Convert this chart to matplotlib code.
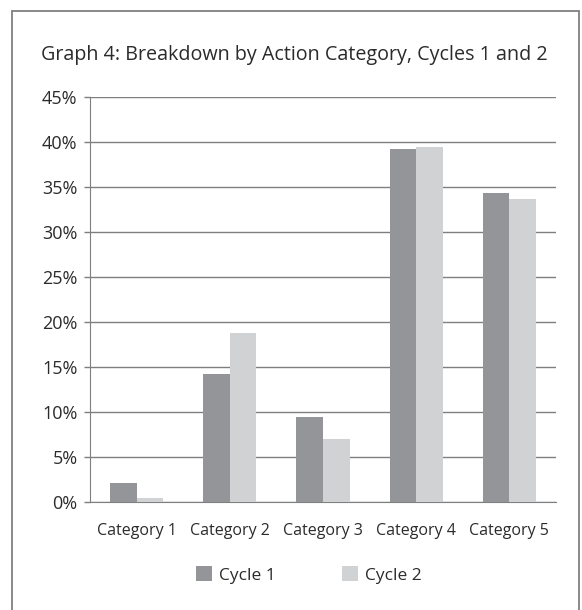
import matplotlib.pyplot as plt
import numpy as np
from matplotlib.patches import Patch, Rectangle

plt.rcParams["font.family"] = ["Open Sans", "DejaVu Sans"]

categories = ["Category 1", "Category 2", "Category 3", "Category 4", "Category 5"]
cycle1 = [2.15, 14.2, 9.4, 39.2, 34.3]
cycle2 = [0.4, 18.8, 7.0, 39.5, 33.7]
yticks = [0, 5, 10, 15, 20, 25, 30, 35, 40, 45]

DARK = "#939598"
LIGHT = "#d1d2d4"
GRID = "#7f7f7f"
TEXT = "#2b2b2b"

fig = plt.figure(figsize=(5.82, 6.10), dpi=100)

# outer frame
fig.patches.append(Rectangle((12 / 582, -0.05), 567 / 582, 1.05 - 11 / 610,
                             transform=fig.transFigure, fill=False,
                             edgecolor="#808080", linewidth=1.3))

ax = fig.add_axes([90 / 582, 108 / 610, 466 / 582, 405 / 610])
x = np.arange(len(categories))
w = 0.285
ax.bar(x - w / 2, cycle1, w, color=DARK, zorder=3)
ax.bar(x + w / 2, cycle2, w, color=LIGHT, zorder=3)

ax.set_xlim(-0.5, len(categories) - 0.5)
ax.set_ylim(0, 45)
ax.set_yticks(yticks)
ax.set_yticklabels([f"{t}%" for t in yticks], fontsize=13, color=TEXT)
ax.set_xticks(x)
ax.set_xticklabels(categories, fontsize=11.5, color=TEXT)
ax.tick_params(axis="x", length=0, pad=15)
ax.tick_params(axis="y", length=4, width=1, color=GRID, pad=5)
ax.yaxis.grid(True, color=GRID, linewidth=1)
ax.set_axisbelow(True)
for s in ["top", "right"]:
    ax.spines[s].set_visible(False)
ax.spines["left"].set_color(GRID)
ax.spines["bottom"].set_color(GRID)

fig.text(41 / 582, 1 - 55 / 610, "Graph 4: Breakdown by Action Category, Cycles 1 and 2",
         fontsize=14.2, color=TEXT, va="center", ha="left")

handles = [Patch(facecolor=DARK, label="Cycle 1"), Patch(facecolor=LIGHT, label="Cycle 2")]
fig.legend(handles=handles, loc="center", bbox_to_anchor=(309 / 582, 35 / 610), ncol=2,
           frameon=False, fontsize=12.5, handlelength=0.95, handleheight=0.95,
           handletextpad=0.4, columnspacing=3.8, labelcolor=TEXT)

fig.savefig("out.png", dpi=100)
